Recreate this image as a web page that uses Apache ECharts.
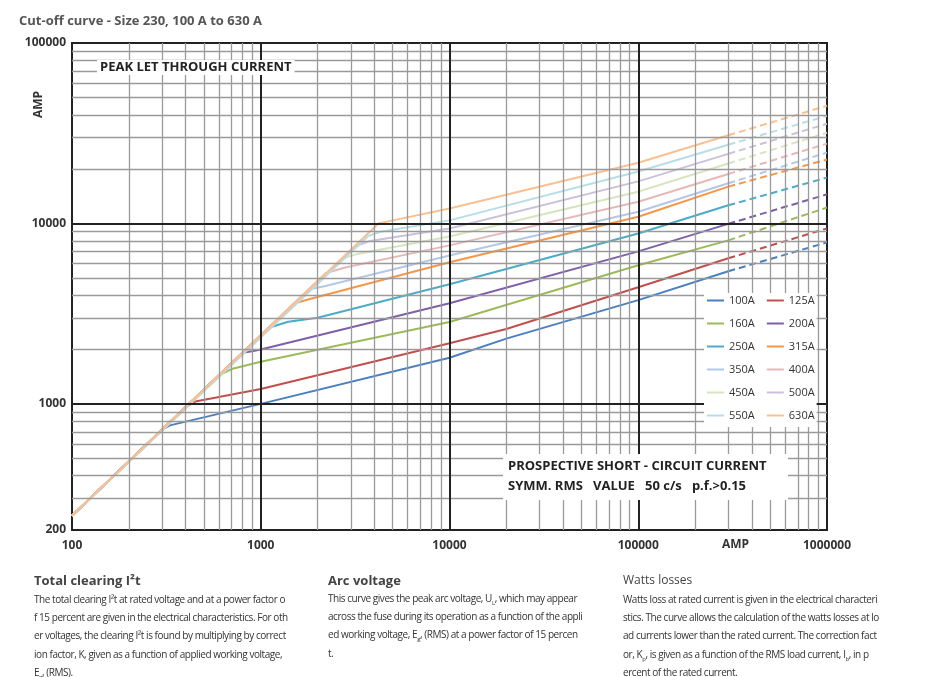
<!DOCTYPE html>
<html><head><meta charset="utf-8">
<script src="https://cdn.jsdelivr.net/npm/echarts@6/dist/echarts.min.js"></script>
<style>
body{margin:0;background:#fff;font-family:"Open Sans",sans-serif;}
#c{position:absolute;left:0;top:0;width:952px;height:677px;}
.col{position:absolute;top:571px;white-space:nowrap;font-size:10px;letter-spacing:-0.45px;color:#333;line-height:18.2px;}
.col h3{margin:0 0 1px 0;font-size:13px;letter-spacing:0;color:#444;line-height:18px;}
sub{font-size:6px;line-height:0;}
</style></head><body>
<div id="c"></div>
<div class="col" style="left:34px"><h3>Total clearing I²t</h3>The total clearing I²t at rated voltage and at a power factor o<br>f 15 percent are given in the electrical characteristics. For oth<br>er voltages, the clearing I²t is found by multiplying by correct<br>ion factor, K, given as a function of applied working voltage,<br>E<sub>g</sub>, (RMS).</div>
<div class="col" style="left:328px"><h3 style="margin-bottom:0">Arc voltage</h3>This curve gives the peak arc voltage, U<sub>L</sub>, which may appear<br>across the fuse during its operation as a function of the appli<br>ed working voltage, E<sub>g</sub>, (RMS) at a power factor of 15 percen<br>t.</div>
<div class="col" style="left:623px"><h3 style="font-weight:normal;font-size:12px">Watts losses</h3>Watts loss at rated current is given in the electrical characteri<br>stics. The curve allows the calculation of the watts losses at lo<br>ad currents lower than the rated current. The correction fact<br>or, K<sub>p</sub>, is given as a function of the RMS load current, I<sub>b</sub>, in p<br>ercent of the rated current.</div>
<script>
const names = ['100A','125A','160A','200A','250A','315A','350A','400A','450A','500A','550A','630A'];
const colors = ['#4a7fc1','#c0504d','#9bbb59','#7f5fa8','#4bacc6','#f79646','#b4c7e7','#e6b9b8','#d7e4bd','#ccc1da','#b7dee8','#fac090'];
const solid = [
 [[100,240],[300,720],[330,760],[1000,1000],[10000,1800],[20000,2300],[100000,3760],[300000,5430]],
 [[100,240],[400,960],[450,1030],[1000,1210],[10000,2170],[20000,2600],[100000,4430],[300000,6410]],
 [[100,240],[600,1440],[700,1560],[1000,1710],[10000,2840],[100000,5860],[300000,8060]],
 [[100,240],[800,1920],[900,1960],[1000,2000],[10000,3610],[100000,7000],[300000,9950]],
 [[100,240],[1100,2640],[1400,2850],[2000,3000],[10000,4600],[100000,8800],[300000,12600]],
 [[100,240],[1500,3600],[1800,3800],[10000,6090],[100000,10900],[300000,16000]],
 [[100,240],[1800,4300],[2200,4500],[10000,6650],[100000,11600],[300000,16700]],
 [[100,240],[2200,5300],[2800,5700],[10000,7560],[100000,13200],[300000,18800]],
 [[100,240],[2700,6400],[3300,6800],[10000,8470],[100000,15000],[300000,21500]],
 [[100,240],[3200,7500],[3800,8000],[10000,9380],[100000,17100],[300000,24300]],
 [[100,240],[3700,8500],[4300,9000],[10000,10400],[100000,19400],[300000,27300]],
 [[100,240],[4200,10000],[4800,10300],[10000,12100],[100000,21700],[300000,30800]]
];
const endAt1M = [7850,9380,12250,14500,17950,22600,24700,27700,31800,35700,39500,44900];
const xMajor = [1000,10000,100000];
const yMajor = [1000,10000];
const xMinor = [200,300,400,500,600,700,800,900,2000,3000,4000,5000,6000,7000,8000,9000,20000,30000,40000,50000,60000,70000,80000,90000,200000,300000,400000,500000,600000,700000,800000,900000];
const yMinor = [300,400,500,600,700,800,900,2000,3000,4000,5000,6000,7000,8000,9000,20000,30000,40000,50000,60000,70000,80000,90000];
const xLabels = [100,1000,10000,100000,1000000];
const yLabels = [200,1000,10000,100000];

const series = [];
const ml = (xs, ys, color, width) => ({
  type:'line', data:[], silent:true, z:1,
  markLine:{silent:true, symbol:'none', label:{show:false}, animation:false,
    lineStyle:{color, width, type:'solid'},
    data:[...xs.map(v=>({xAxis:v})), ...ys.map(v=>({yAxis:v}))]}
});
series.push(ml(xMinor, yMinor, '#9a9a9a', 1.3));
series.push(ml(xMajor, yMajor, '#222', 2));
names.forEach((n,i)=>{
  const d = solid[i];
  series.push({name:n, type:'line', data:d, showSymbol:false, z:3, lineStyle:{color:colors[i], width:2}, itemStyle:{color:colors[i]}});
  series.push({name:n, type:'line', data:[d[d.length-1],[1000000,endAt1M[i]]], showSymbol:false, z:3, lineStyle:{color:colors[i], width:2, type:[7,4]}, itemStyle:{color:colors[i]}});
});

const chart = echarts.init(document.getElementById('c'));
chart.setOption({
  animation:false,
  title:{text:'Cut-off curve - Size 230, 100 A to 630 A', left:14, top:10, textStyle:{fontSize:13, fontWeight:'bold', color:'#555', fontFamily:'Open Sans'}},
  grid:{left:72, right:125, top:43, bottom:147, show:true, borderColor:'#222', borderWidth:2, backgroundColor:'#fff'},
  legend:{data:names.map((n,i)=>({name:n, itemStyle:{color:colors[i]}})), left:704, top:293, width:122, itemGap:12, itemWidth:17, itemHeight:2, icon:'rect', z:20,
    backgroundColor:'#fff', padding:[2,2,6,3], textStyle:{fontSize:11, color:'#333', fontFamily:'Open Sans'}},
  xAxis:{type:'log', min:100, max:1000000, logBase:10,
    axisLine:{show:false}, axisTick:{show:false}, splitLine:{show:false},
    axisLabel:{customValues:xLabels, formatter:v=>String(v), fontSize:12, fontWeight:'bold', color:'#333', margin:10, fontFamily:'Open Sans'}},
  yAxis:{type:'log', min:200, max:100000, logBase:10,
    axisLine:{show:false}, axisTick:{show:false}, splitLine:{show:false},
    axisLabel:{customValues:yLabels, formatter:v=>String(v), fontSize:12, fontWeight:'bold', color:'#333', margin:6, fontFamily:'Open Sans'}},
  graphic:[
    {type:'text', x:33, y:118, rotation:Math.PI/2, z:10, style:{text:'AMP', fontSize:12, fontWeight:'bold', fill:'#333', fontFamily:'Open Sans'}},
    {type:'text', left:97, top:60, z:10, style:{text:'PEAK LET THROUGH CURRENT', fontSize:13, fontWeight:'bold', fill:'#222', fontFamily:'Open Sans', backgroundColor:'#fff', padding:[1,3]}},
    {type:'text', left:503, top:454, z:10, style:{text:'PROSPECTIVE SHORT - CIRCUIT CURRENT\nSYMM. RMS   VALUE   50 c/s   p.f.>0.15', fontSize:13, fontWeight:'bold', fill:'#222', fontFamily:'Open Sans', lineHeight:20, backgroundColor:'#fff', padding:[2,5,4,5], width:275}},
    {type:'text', left:722, top:539, z:10, style:{text:'AMP', fontSize:12, fontWeight:'bold', fill:'#333', fontFamily:'Open Sans'}}
  ],
  series
});
</script></body></html>
